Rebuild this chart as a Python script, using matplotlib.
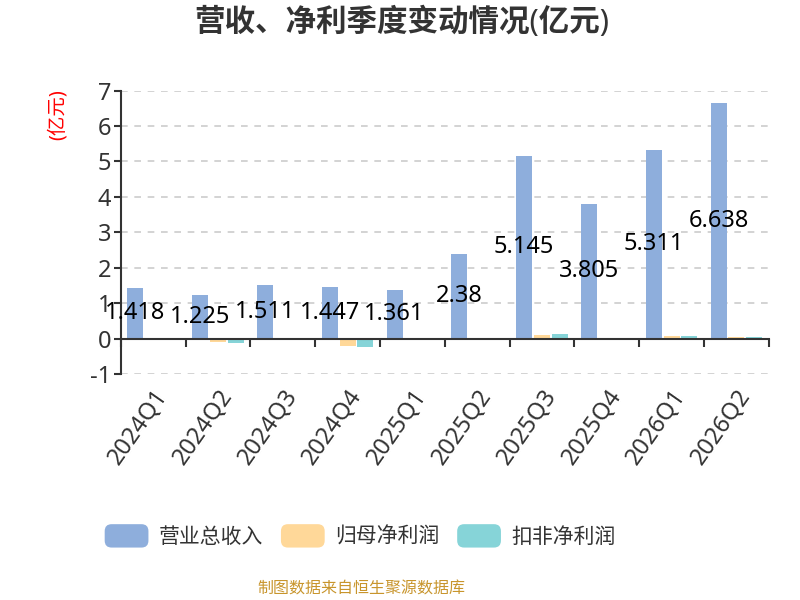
"""
Quarterly revenue and net profit bars, rebuilt from the reference image.
"""

import matplotlib
matplotlib.use("Agg")
import matplotlib.pyplot as plt
import numpy as np
from matplotlib.legend_handler import HandlerPatch
from matplotlib.patches import FancyBboxPatch, Patch

plt.rcParams["font.family"] = ["Noto Sans", "Noto Sans CJK SC", "DejaVu Sans"]
plt.rcParams["axes.unicode_minus"] = False

quarters = ["2024Q1", "2024Q2", "2024Q3", "2024Q4", "2025Q1",
            "2025Q2", "2025Q3", "2025Q4", "2026Q1", "2026Q2"]
revenue = [1.418, 1.225, 1.511, 1.447, 1.361, 2.38, 5.145, 3.805, 5.311, 6.638]
net_profit = [0.01, -0.11, 0.01, -0.21, 0.01, 0.02, 0.11, 0.01, 0.06, 0.04]
net_profit_ex = [0.01, -0.12, -0.03, -0.23, -0.01, 0.02, 0.12, 0.01, 0.07, 0.05]

series_names = ["营业总收入", "归母净利润", "扣非净利润"]
colors = ["#8eaedc", "#ffd899", "#86d4d8"]

TEXT = "#333333"


class RoundHandler(HandlerPatch):
    """Legend keys drawn as rounded boxes."""

    def create_artists(self, legend, orig_handle, xdescent, ydescent,
                       width, height, fontsize, trans):
        box = FancyBboxPatch((-xdescent, -ydescent), width, height,
                             boxstyle="round,pad=0,rounding_size=5",
                             facecolor=orig_handle.get_facecolor(),
                             edgecolor="none", transform=trans)
        return [box]


def main():
    fig = plt.figure(figsize=(8, 6), dpi=100)
    ax = fig.add_axes([0.151, 0.3767, 0.81, 0.4723])

    x = np.arange(len(quarters))
    width = 0.247
    step = 0.275
    for k, (vals, col) in enumerate(zip([revenue, net_profit, net_profit_ex], colors)):
        ax.bar(x + (k - 1) * step, vals, width, color=col, zorder=3)

    # value labels sit in the middle of the revenue bars
    for xi, v in zip(x, revenue):
        ax.text(xi - step, v / 2, f"{v:g}", ha="center", va="center",
                fontsize=17, color="black", zorder=5)

    ax.set_xlim(-0.5, len(quarters) - 0.5)
    ax.set_ylim(-1, 7)
    ax.set_yticks(range(-1, 8))
    ax.grid(axis="y", color="#cccccc", linestyle=(0, (4, 4)), linewidth=1.2, zorder=0)

    for side in ("top", "right"):
        ax.spines[side].set_visible(False)
    ax.spines["left"].set_color(TEXT)
    ax.spines["left"].set_linewidth(1.5)
    ax.spines["bottom"].set_position(("data", 0))
    ax.spines["bottom"].set_color(TEXT)
    ax.spines["bottom"].set_linewidth(1.5)
    ax.spines["bottom"].set_zorder(4)

    ax.tick_params(axis="y", length=5, width=1.5, color=TEXT, labelcolor=TEXT,
                   labelsize=17, pad=2)
    ax.set_xticks(np.arange(len(quarters) + 1) - 0.5)
    ax.set_xticklabels([])
    ax.tick_params(axis="x", which="major", length=6, width=1.5, color=TEXT)
    ax.set_xticks(x, minor=True)
    ax.set_xticklabels(quarters, minor=True, rotation=55, ha="right",
                       rotation_mode="anchor")
    ax.tick_params(axis="x", which="minor", length=0, pad=33,
                   labelsize=17, labelcolor=TEXT)

    fig.text(0.5025, 1 - 22 / 600, "营收、净利季度变动情况(亿元)", ha="center",
             va="center", fontsize=22, fontweight="bold", color=TEXT)
    fig.text(58 / 800, 1 - 115 / 600, "(亿元)", rotation=90, ha="center",
             va="center", fontsize=14, color="red")

    handles = [Patch(facecolor=c) for c in colors]
    fig.legend(handles, series_names, loc="center", bbox_to_anchor=(0.45, 1 - 536 / 600),
               ncol=3, frameon=False, fontsize=15, handlelength=2.1,
               handleheight=1.35, handletextpad=0.48, columnspacing=0.87,
               labelcolor=TEXT, handler_map={Patch: RoundHandler()})

    fig.text(361 / 800, 1 - 590 / 600, "制图数据来自恒生聚源数据库", ha="center",
             va="center", fontsize=11.5, color="#c8952c")

    fig.savefig("out.png", dpi=100)


if __name__ == "__main__":
    main()
